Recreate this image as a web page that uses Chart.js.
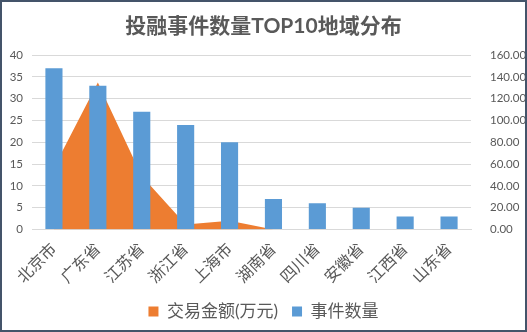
<!DOCTYPE html>
<html>
<head>
<meta charset="utf-8">
<script src="https://cdn.jsdelivr.net/npm/chart.js@4/dist/chart.umd.min.js"></script>
<style>
  html, body { margin: 0; padding: 0; background: #fff; }
  #box { width: 527px; height: 332px; box-sizing: border-box; border: 2px solid #44546a; position: relative; }
</style>
</head>
<body>
<div id="box"><canvas id="c"></canvas></div>
<script>
// 地域（类目）
const regions = ["北京市", "广东省", "江苏省", "浙江省", "上海市", "湖南省", "四川省", "安徽省", "江西省", "山东省"];
// 事件数量（左轴）
const eventCounts = [37, 33, 27, 24, 20, 7, 6, 5, 3, 3];
// 交易金额(万元)（右轴）
const dealAmounts = [57, 135, 49, 4.6, 8, 0, 0, 0, 0, 0];
// 坐标轴刻度
const leftTicks = [0, 5, 10, 15, 20, 25, 30, 35, 40];
const rightTicks = [0, 20, 40, 60, 80, 100, 120, 140, 160];

const FONT = "Lato, 'Noto Sans CJK SC', sans-serif";
const TEXT = "#595959";

const ctx = document.getElementById("c").getContext("2d");
new Chart(ctx, {
  data: {
    labels: regions,
    datasets: [
      {
        type: "line",
        label: "交易金额(万元)",
        data: dealAmounts,
        yAxisID: "y1",
        borderWidth: 0,
        borderColor: "#ed7d31",
        backgroundColor: "#ed7d31",
        fill: "origin",
        pointRadius: 0,
        tension: 0,
        order: 2,
      },
      {
        type: "bar",
        label: "事件数量",
        data: eventCounts,
        yAxisID: "y",
        backgroundColor: "#5b9bd5",
        barPercentage: 0.39,
        categoryPercentage: 1,
        order: 1,
      },
    ],
  },
  options: {
    responsive: true,
    maintainAspectRatio: false,
    animation: false,
    layout: { padding: { top: 2, right: 0, bottom: 0, left: 0 } },
    plugins: {
      title: {
        display: true,
        text: "投融事件数量TOP10地域分布",
        color: TEXT,
        font: { family: FONT, size: 21, weight: "bold" },
        padding: { top: 10, bottom: 16 },
      },
      legend: {
        position: "bottom",
        labels: {
          color: TEXT,
          font: { family: FONT, size: 17 },
          boxWidth: 10,
          boxHeight: 10,
          padding: 14,
          generateLabels: (chart) =>
            chart.data.datasets.map((d, i) => ({
              text: d.label,
              fillStyle: d.backgroundColor,
              strokeStyle: d.backgroundColor,
              lineWidth: 0,
              fontColor: TEXT,
              datasetIndex: i,
            })),
        },
      },
      tooltip: { enabled: false },
    },
    scales: {
      x: {
        offset: true,
        grid: { display: false },
        border: { color: "#d9d9d9" },
        ticks: {
          color: TEXT,
          font: { family: FONT, size: 16 },
          minRotation: 45,
          maxRotation: 45,
          padding: 2,
        },
      },
      y: {
        position: "left",
        min: 0,
        max: 40,
        afterBuildTicks: (s) => { s.ticks = leftTicks.map((v) => ({ value: v })); },
        afterFit: (s) => { s.width = 30; },
        grid: { color: "#d9d9d9", drawTicks: false },
        border: { display: false },
        ticks: {
          color: TEXT,
          font: { family: FONT, size: 11.5 },
          padding: 9,
        },
      },
      y1: {
        position: "right",
        min: 0,
        max: 160,
        afterBuildTicks: (s) => { s.ticks = rightTicks.map((v) => ({ value: v })); },
        afterFit: (s) => { s.width = 54; },
        grid: { drawOnChartArea: false, display: false },
        border: { display: false },
        ticks: {
          color: TEXT,
          font: { family: FONT, size: 11.5 },
          padding: 11,
          callback: (v) => Number(v).toFixed(2),
        },
      },
    },
  },
});
</script>
</body>
</html>
